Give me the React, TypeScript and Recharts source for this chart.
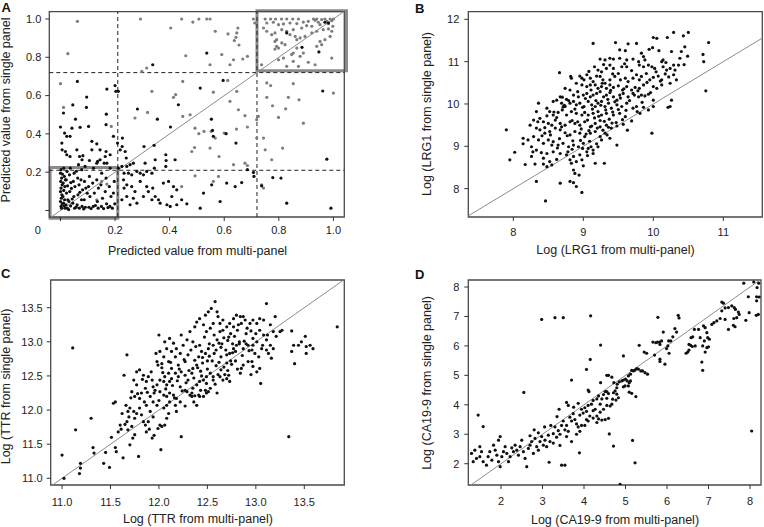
import React from "react";
import { ScatterChart, Scatter, XAxis, YAxis, ReferenceLine, ReferenceArea } from "recharts";

type Pt = [number, number];

const FONT = "'Liberation Sans', Arial, Helvetica, sans-serif";
const INK = "#111";
const FRAME = "#4a4a4a";

// ---- Panel A: predicted values, multi-panel vs single panel ----
const predTicks = [0, 0.2, 0.4, 0.6, 0.8, 1.0];
const predCutoffs = [0.21, 0.72];
const predBlack: Pt[] = [
  [0.536, 0.822], [0.338, 0.761], [0.829, 0.927], [0.885, 0.852], [0.947, 0.828], [0.969, 0.983], [0.982, 0.979],
  [0.011, 0.509], [0.045, 0.551], [0.062, 0.674], [0.055, 0.477], [0.096, 0.592], [0.095, 0.538], [0.17, 0.634],
  [0.168, 0.503], [0.2, 0.652], [0.203, 0.622], [0.212, 0.622], [0.167, 0.448], [0.103, 0.439], [0.282, 0.53],
  [0.355, 0.477], [0.432, 0.552], [0.512, 0.639], [0.596, 0.679], [0.553, 0.477], [0.961, 0.624],
  [0.0, 0.436], [0.015, 0.404], [0.023, 0.387], [0.035, 0.387], [0.042, 0.43], [0.005, 0.352], [0.006, 0.317],
  [0.018, 0.308], [0.023, 0.291], [0.035, 0.282], [0.072, 0.434], [0.06, 0.317], [0.07, 0.282], [0.082, 0.286],
  [0.079, 0.265], [0.115, 0.361], [0.115, 0.317], [0.133, 0.348], [0.145, 0.317], [0.167, 0.308], [0.164, 0.282],
  [0.182, 0.291], [0.145, 0.265], [0.133, 0.247], [0.16, 0.247], [0.17, 0.247], [0.106, 0.261], [0.194, 0.387],
  [0.209, 0.352], [0.219, 0.317], [0.227, 0.378], [0.226, 0.334], [0.237, 0.308], [0.241, 0.274], [0.343, 0.34],
  [0.306, 0.334], [0.403, 0.436], [0.557, 0.418], [0.56, 0.387], [0.607, 0.401], [0.643, 0.352], [0.386, 0.291],
  [0.387, 0.261], [0.386, 0.23], [0.42, 0.265], [0.31, 0.247], [0.347, 0.265], [0.685, 0.213], [0.707, 0.199],
  [0.976, 0.268],
  [0.212, 0.221], [0.225, 0.23], [0.243, 0.23], [0.255, 0.239], [0.267, 0.247], [0.233, 0.195], [0.249, 0.195],
  [0.261, 0.186], [0.28, 0.204], [0.292, 0.195], [0.304, 0.186], [0.316, 0.204], [0.335, 0.195], [0.344, 0.221],
  [0.231, 0.16], [0.243, 0.134], [0.233, 0.117], [0.261, 0.125], [0.273, 0.099], [0.243, 0.073], [0.267, 0.064],
  [0.28, 0.038], [0.255, 0.03], [0.225, 0.056], [0.292, 0.152], [0.316, 0.125], [0.322, 0.099], [0.338, 0.117],
  [0.304, 0.073], [0.335, 0.056], [0.347, 0.073], [0.359, 0.056], [0.365, 0.038], [0.377, 0.143], [0.396, 0.152],
  [0.414, 0.125], [0.408, 0.073], [0.426, 0.108], [0.39, 0.03], [0.402, 0.021], [0.426, 0.03], [0.444, 0.056],
  [0.463, 0.035], [0.512, 0.012], [0.524, 0.091], [0.554, 0.134], [0.585, 0.047], [0.609, 0.143], [0.64, 0.125],
  [0.664, 0.146], [0.709, 0.178], [0.737, 0.129], [0.778, 0.172], [0.808, 0.169], [0.829, 0.038], [0.991, 0.012],
  [0.002, 0.213], [0.0, 0.195], [0.004, 0.169], [0.001, 0.152], [0.006, 0.134], [0.002, 0.117], [0.0, 0.099],
  [0.005, 0.082], [0.003, 0.064], [0.0, 0.047], [0.006, 0.035], [0.002, 0.021], [0.004, 0.012],
  [0.012, 0.221], [0.014, 0.178], [0.01, 0.143], [0.016, 0.125], [0.012, 0.105], [0.009, 0.073], [0.015, 0.056],
  [0.011, 0.038], [0.013, 0.024], [0.017, 0.012], [0.024, 0.204], [0.021, 0.16], [0.026, 0.129], [0.022, 0.091],
  [0.027, 0.056], [0.02, 0.03], [0.025, 0.012], [0.036, 0.221], [0.033, 0.186], [0.038, 0.146], [0.034, 0.099],
  [0.031, 0.047], [0.037, 0.024], [0.05, 0.195], [0.047, 0.152], [0.053, 0.125], [0.049, 0.073], [0.045, 0.038],
  [0.052, 0.012], [0.066, 0.239], [0.063, 0.169], [0.068, 0.134], [0.064, 0.082], [0.061, 0.03], [0.069, 0.012],
  [0.078, 0.213], [0.075, 0.16], [0.081, 0.108], [0.077, 0.056], [0.079, 0.021], [0.09, 0.23], [0.088, 0.152],
  [0.093, 0.117], [0.087, 0.056], [0.091, 0.017], [0.106, 0.178], [0.103, 0.125], [0.108, 0.073], [0.104, 0.017],
  [0.121, 0.221], [0.118, 0.143], [0.124, 0.091], [0.12, 0.021], [0.136, 0.256], [0.133, 0.16], [0.139, 0.117],
  [0.135, 0.047], [0.138, 0.012], [0.151, 0.195], [0.148, 0.134], [0.154, 0.064], [0.15, 0.021], [0.167, 0.169],
  [0.164, 0.099], [0.169, 0.035], [0.182, 0.221], [0.179, 0.125], [0.185, 0.073], [0.181, 0.021], [0.197, 0.152],
  [0.194, 0.091], [0.199, 0.035], [0.03, 0.005], [0.058, 0.018], [0.085, 0.008], [0.112, 0.01], [0.128, 0.026],
  [0.158, 0.01], [0.174, 0.015], [0.19, 0.012], [0.043, 0.06], [0.071, 0.095], [0.098, 0.09], [0.007, 0.19],
  [0.04, 0.115], [0.018, 0.16], [0.058, 0.205],
];
const predGray: Pt[] = [
  [0.062, 0.988], [0.293, 1.0], [0.444, 1.0], [0.485, 0.984], [0.507, 1.0], [0.536, 1.0], [0.548, 1.0],
  [0.404, 0.953], [0.567, 0.936], [0.614, 0.922], [0.646, 0.927], [0.65, 0.953], [0.643, 0.904], [0.637, 0.887],
  [0.654, 0.864], [0.707, 1.0], [0.712, 0.979],
  [0.75, 1.0], [0.77, 1.0], [0.788, 1.0], [0.81, 1.0], [0.829, 1.0], [0.851, 1.0], [0.872, 1.0], [0.927, 1.0],
  [0.939, 1.0], [0.969, 1.0], [0.988, 1.0], [1.0, 1.0], [0.756, 0.979], [0.78, 0.983], [0.799, 0.97],
  [0.817, 0.974], [0.841, 0.979], [0.866, 0.976], [0.89, 0.984], [0.908, 0.988], [0.933, 0.993], [0.945, 0.983],
  [0.957, 0.997], [0.976, 0.988], [0.994, 0.991], [0.982, 0.976], [0.951, 0.97], [0.921, 0.962], [0.902, 0.965],
  [0.884, 0.953], [0.853, 0.944], [0.829, 0.936], [0.811, 0.944], [0.786, 0.927], [0.774, 0.918], [0.756, 0.936],
  [0.744, 0.953], [0.792, 0.892], [0.786, 0.883], [0.811, 0.875], [0.823, 0.866], [0.841, 0.918], [0.86, 0.909],
  [0.866, 0.892], [0.878, 0.901], [0.896, 0.909], [0.921, 0.927], [0.939, 0.936], [0.963, 0.944], [0.982, 0.948],
  [0.994, 0.936], [0.998, 0.962], [0.988, 0.909], [0.969, 0.892], [0.951, 0.883], [0.939, 0.857], [0.957, 0.866],
  [0.853, 0.822], [0.847, 0.814], [0.878, 0.805], [0.89, 0.822], [0.866, 0.848], [0.792, 0.857], [0.799, 0.848],
  [0.786, 0.843], [0.799, 0.787], [0.817, 0.796], [0.829, 0.753], [0.853, 0.779], [0.872, 0.753], [0.908, 0.774],
  [0.933, 0.761], [0.994, 0.796], [0.737, 0.761],
  [0.027, 0.819], [0.459, 0.808], [0.548, 0.761], [0.591, 0.814], [0.634, 0.787], [0.668, 0.791], [0.685, 0.805],
  [0.621, 0.761], [0.298, 0.726], [0.316, 0.744], [0.0, 0.662], [0.011, 0.538], [0.273, 0.483], [0.319, 0.512],
  [0.335, 0.622], [0.414, 0.591], [0.422, 0.605], [0.448, 0.674], [0.475, 0.5], [0.448, 0.491], [0.613, 0.679],
  [0.56, 0.618], [0.621, 0.57], [0.646, 0.622], [0.652, 0.526], [0.676, 0.495], [0.685, 0.436], [0.725, 0.491],
  [0.719, 0.474], [0.756, 0.666], [0.756, 0.591], [0.777, 0.547], [0.799, 0.486], [0.77, 0.652], [0.825, 0.531],
  [0.835, 0.591], [0.853, 0.662], [0.874, 0.578], [0.89, 0.456], [1.0, 0.613], [0.186, 0.439], [0.493, 0.43],
  [0.507, 0.401], [0.526, 0.413], [0.552, 0.413], [0.567, 0.378], [0.6, 0.404], [0.645, 0.425], [0.719, 0.378],
  [0.744, 0.378], [0.75, 0.317], [0.774, 0.265], [0.814, 0.326], [0.481, 0.308], [0.491, 0.329], [0.548, 0.326],
  [0.581, 0.282], [0.634, 0.239], [0.676, 0.247], [0.685, 0.235], [0.493, 0.181], [0.56, 0.152], [0.579, 0.178],
  [0.744, 0.117], [0.737, 0.134], [0.444, 0.125], [0.151, 0.152], [0.17, 0.138], [0.133, 0.056],
];

// ---- Panel B: log LRG1 ----
const lrg1XTicks = [8, 9, 10, 11];
const lrg1YTicks = [8, 9, 10, 11, 12];
const lrg1Points: Pt[] = [
  [10.5, 11.69], [10.29, 11.69], [10.43, 11.61], [10.0, 11.57], [10.05, 11.55], [10.2, 11.57], [9.14, 11.43],
  [9.46, 11.45], [9.64, 11.42], [9.76, 11.43], [10.79, 11.45], [9.52, 11.28], [9.6, 11.26], [9.94, 11.29],
  [9.99, 11.33], [10.08, 11.26], [10.26, 11.24], [10.45, 11.35], [10.4, 11.24], [10.71, 11.17], [10.72, 11.0],
  [10.49, 11.13], [9.38, 11.08], [9.43, 11.06], [9.52, 11.08], [9.62, 11.04], [9.71, 11.06], [9.79, 11.0],
  [9.86, 11.12], [9.88, 11.04], [10.12, 11.0], [10.14, 11.04], [9.24, 11.06], [9.31, 11.04], [9.93, 10.92],
  [9.98, 10.88], [10.02, 10.84], [9.86, 10.88], [9.8, 10.92], [10.29, 10.92], [10.36, 10.92], [9.21, 10.8],
  [9.26, 10.76], [9.33, 10.84], [9.38, 10.92], [9.43, 10.84], [9.55, 10.88], [9.62, 10.88], [10.14, 10.88],
  [10.19, 10.8], [10.24, 10.84], [8.66, 10.74], [8.83, 10.61], [8.82, 10.65], [8.95, 10.66], [8.98, 10.61],
  [9.01, 10.57], [9.05, 10.69], [9.1, 10.61], [9.14, 10.53], [9.19, 10.66], [9.24, 10.65], [9.28, 10.57],
  [9.31, 10.49], [9.38, 10.57], [9.45, 10.65], [9.5, 10.72], [9.53, 10.57], [9.6, 10.61], [9.64, 10.53],
  [9.71, 10.61], [9.76, 10.69], [9.8, 10.57], [9.83, 10.65], [9.9, 10.72], [9.95, 10.57], [10.0, 10.63],
  [10.07, 10.66], [10.12, 10.57], [10.17, 10.71], [10.29, 10.69], [10.31, 10.8], [8.9, 10.49], [8.98, 10.45],
  [9.05, 10.41], [9.1, 10.45], [9.17, 10.45], [9.21, 10.37], [9.26, 10.41], [9.33, 10.37], [9.38, 10.45],
  [9.43, 10.39], [9.5, 10.43], [9.56, 10.33], [9.62, 10.41], [9.69, 10.33], [9.74, 10.39], [9.8, 10.37],
  [9.86, 10.45], [10.0, 10.41], [10.05, 10.37], [10.12, 10.45], [8.74, 10.37], [8.81, 10.33], [8.86, 10.21],
  [8.93, 10.17], [8.76, 10.11], [8.7, 10.16], [8.67, 10.17], [9.0, 10.21], [9.05, 10.25], [9.1, 10.17],
  [9.14, 10.21], [9.19, 10.25], [9.24, 10.29], [9.29, 10.17], [9.33, 10.21], [9.38, 10.27], [9.43, 10.17],
  [9.48, 10.09], [9.52, 10.21], [9.57, 10.25], [9.64, 10.17], [9.71, 10.25], [9.79, 10.17], [9.83, 10.21],
  [9.88, 10.19], [9.93, 10.23], [10.0, 10.09], [10.24, 10.49], [10.26, 10.09], [8.57, 10.06], [8.62, 10.09],
  [8.69, 10.02], [8.74, 9.94], [8.81, 10.02], [8.86, 10.06], [8.9, 9.98], [8.95, 10.02], [9.01, 9.94],
  [9.07, 10.06], [9.12, 9.98], [9.17, 9.94], [9.21, 10.02], [9.26, 10.06], [9.31, 9.94], [9.36, 10.02],
  [9.4, 9.9], [9.48, 9.98], [9.55, 9.94], [9.62, 10.02], [9.71, 9.9], [9.76, 9.94], [9.86, 9.92], [9.93, 9.86],
  [8.36, 10.02], [8.33, 9.82], [8.48, 9.9], [8.52, 9.82], [8.57, 9.74], [8.64, 9.8], [8.7, 9.86], [8.76, 9.74],
  [8.83, 9.82], [8.9, 9.78], [8.98, 9.74], [9.02, 9.8], [9.07, 9.74], [9.14, 9.78], [9.21, 9.82], [9.26, 9.74],
  [9.33, 9.78], [9.43, 9.74], [9.52, 9.78], [9.6, 9.7], [8.29, 9.62], [8.38, 9.66], [8.43, 9.58], [8.5, 9.54],
  [8.55, 9.5], [8.6, 9.62], [8.67, 9.54], [8.74, 9.5], [8.81, 9.58], [8.88, 9.54], [8.95, 9.5], [9.02, 9.58],
  [9.1, 9.46], [9.17, 9.54], [9.24, 9.46], [9.33, 9.5], [9.4, 9.43], [9.48, 9.48], [8.24, 9.5], [8.33, 9.43],
  [8.38, 9.39], [8.45, 9.31], [8.52, 9.35], [8.6, 9.43], [8.67, 9.39], [8.74, 9.32], [8.81, 9.27], [8.88, 9.35],
  [8.95, 9.31], [9.02, 9.23], [9.1, 9.31], [9.17, 9.35], [9.24, 9.23], [9.31, 9.31], [9.38, 9.19], [7.9, 9.39],
  [8.14, 9.19], [8.21, 9.15], [8.29, 9.23], [8.36, 9.15], [8.43, 9.07], [8.5, 9.15], [8.57, 9.11], [8.64, 9.03],
  [8.71, 9.07], [8.79, 8.99], [8.86, 9.03], [8.93, 8.99], [9.0, 9.07], [9.07, 8.95], [9.14, 8.91], [9.21, 8.99],
  [9.26, 9.15], [9.48, 9.03], [8.14, 9.06], [8.26, 8.99], [8.33, 8.91], [8.4, 8.85], [8.48, 8.83], [8.57, 8.87],
  [8.67, 8.83], [8.76, 8.8], [8.86, 8.76], [8.95, 8.8], [9.05, 8.87], [9.14, 8.83], [9.17, 8.6], [8.02, 8.86],
  [7.95, 8.68], [8.26, 8.76], [8.28, 8.87], [8.43, 8.72], [8.52, 8.64], [8.62, 8.69], [8.17, 8.57], [8.31, 8.58],
  [8.43, 8.58], [8.48, 8.52], [8.55, 8.56], [8.81, 8.68], [8.83, 8.6], [8.9, 8.64], [8.98, 8.68], [9.0, 8.54],
  [8.86, 8.44], [8.88, 8.36], [9.3, 8.6], [8.33, 8.17], [8.67, 8.13], [8.81, 8.17], [8.86, 8.14], [8.9, 8.05],
  [8.94, 8.32], [8.98, 7.91], [8.46, 7.71], [9.98, 9.31], [10.75, 10.31], [10.24, 9.94], [10.21, 9.92],
  [10.0, 9.94], [9.81, 9.78],
  [8.62, 9.68], [8.71, 9.93], [8.79, 10.08], [8.84, 9.61], [8.88, 9.88], [8.92, 10.29], [8.97, 9.41],
  [8.99, 9.92], [9.03, 10.13], [9.06, 9.62], [9.08, 9.37], [9.11, 10.33], [9.13, 9.88], [9.16, 9.67],
  [9.18, 10.08], [9.2, 9.43], [9.22, 9.71], [9.25, 9.97], [9.27, 10.49], [9.3, 9.59], [9.32, 9.86],
  [9.35, 10.11], [9.37, 9.64], [9.39, 10.32], [9.42, 9.81], [9.45, 10.05], [9.47, 9.56], [9.5, 9.87],
  [9.53, 10.14], [9.56, 9.63], [9.58, 10.36], [9.61, 9.85], [9.66, 10.08], [9.69, 9.6], [9.73, 10.21],
  [9.77, 9.82], [8.45, 9.44], [8.53, 9.27], [8.58, 9.81], [8.66, 9.18], [8.69, 9.46], [8.73, 9.97], [8.77, 9.25],
  [8.85, 9.13], [8.92, 9.58], [8.96, 9.14], [9.04, 9.29], [9.09, 9.12], [9.12, 9.48], [9.19, 9.06], [9.28, 9.38],
  [9.34, 9.27], [9.41, 9.55], [8.35, 9.58], [8.41, 9.25], [8.48, 9.72], [8.55, 9.03], [8.63, 8.96], [8.78, 8.87],
  [8.84, 8.93], [8.99, 8.95], [9.06, 8.78], [9.11, 8.99], [9.24, 9.61], [9.36, 9.45], [9.57, 9.52], [9.63, 9.38],
  [9.78, 10.31], [9.84, 10.04], [9.91, 10.51], [9.96, 10.27], [10.04, 10.76], [10.1, 10.54], [10.18, 10.98],
  [10.22, 10.64], [10.33, 10.57], [10.38, 11.08], [10.44, 10.93], [9.69, 10.79], [9.59, 10.95], [9.83, 11.2],
  [9.42, 10.71], [9.29, 10.93], [9.16, 10.88], [9.08, 10.77],
];

// ---- Panel C: log TTR ----
const ttrTicks = [11.0, 11.5, 12.0, 12.5, 13.0, 13.5];
const ttrPoints: Pt[] = [
  [11.11, 12.91], [11.0, 11.34], [11.02, 11.0], [11.14, 11.71], [11.19, 11.22], [11.18, 11.07], [11.19, 11.15],
  [11.3, 11.88], [11.32, 11.45], [11.33, 11.37], [11.43, 11.22], [11.45, 11.38], [11.49, 11.16], [11.51, 11.6],
  [11.55, 11.45], [11.56, 11.39], [11.63, 11.3], [11.53, 12.1], [11.55, 12.12], [11.67, 12.81], [11.64, 12.51],
  [11.6, 11.78], [11.61, 11.72], [11.65, 11.79], [11.67, 11.83], [11.68, 11.71], [11.7, 11.49], [11.73, 11.59],
  [11.75, 11.64], [11.79, 11.32], [11.8, 12.03], [11.82, 11.93], [11.84, 11.83], [11.7, 12.03], [11.74, 11.98],
  [11.77, 11.95], [11.75, 11.88], [11.66, 12.07], [11.68, 11.98], [11.77, 12.56], [11.8, 12.59], [11.84, 12.51],
  [11.74, 12.44], [11.77, 12.37], [11.72, 12.27], [11.75, 12.2], [11.8, 12.17], [11.82, 12.25], [11.86, 12.32],
  [11.87, 12.42], [11.89, 12.49], [11.93, 12.44], [11.94, 12.34], [11.96, 12.29], [11.98, 12.37], [11.91, 12.2],
  [11.94, 12.12], [11.98, 12.07], [11.87, 12.07], [11.91, 11.98], [11.94, 11.9], [11.89, 11.83], [11.86, 11.78],
  [11.87, 11.68], [11.93, 11.59], [11.95, 11.63], [11.99, 11.73], [12.01, 11.78], [12.0, 13.1], [12.06, 13.0],
  [12.08, 12.9], [12.01, 12.86], [12.05, 12.78], [12.1, 12.71], [12.03, 12.68], [11.98, 12.71], [11.99, 12.66],
  [12.11, 13.05], [12.15, 12.98], [12.18, 12.9], [12.13, 12.86], [12.17, 12.78], [12.22, 12.83], [12.25, 12.95],
  [12.29, 13.03], [12.23, 13.1], [12.3, 12.81], [12.27, 12.71], [12.2, 12.66], [12.13, 12.61], [12.1, 12.54],
  [12.06, 12.49], [12.13, 12.46], [12.17, 12.54], [12.2, 12.49], [12.23, 12.56], [12.27, 12.51], [12.3, 12.44],
  [12.34, 12.54], [12.35, 12.61], [12.39, 12.66], [12.37, 12.73], [12.41, 12.78], [12.44, 12.86], [12.42, 12.95],
  [12.35, 13.0], [12.32, 13.15], [12.37, 13.22], [12.39, 13.29], [12.42, 13.34], [12.46, 13.25], [12.49, 13.15],
  [12.53, 13.2], [12.56, 13.27], [12.48, 13.39], [12.51, 13.44], [12.54, 13.49], [12.58, 13.59], [12.6, 13.44],
  [12.61, 13.37], [12.63, 13.27], [12.66, 13.32], [12.22, 12.34], [12.27, 12.29], [12.29, 12.27], [12.32, 12.22],
  [12.35, 12.32], [12.39, 12.37], [12.42, 12.42], [12.46, 12.44], [12.49, 12.39], [12.53, 12.32], [12.56, 12.49],
  [12.61, 12.52], [12.64, 12.59], [12.67, 12.63], [12.7, 12.69], [12.74, 12.72], [12.76, 12.84], [12.79, 12.86],
  [12.83, 12.97], [12.88, 13.01], [12.9, 13.12], [12.95, 13.16], [12.01, 12.27], [12.05, 12.22], [12.08, 12.2],
  [12.11, 12.25], [12.15, 12.22], [12.18, 12.17], [12.08, 12.37], [12.11, 12.42], [12.05, 12.42], [12.01, 12.44],
  [12.11, 12.12], [12.17, 12.07], [12.18, 11.98], [12.22, 12.12], [12.08, 12.07], [12.05, 12.03], [12.08, 11.88],
  [12.06, 11.78], [12.03, 11.76], [12.34, 12.25], [12.48, 12.29], [12.49, 12.25], [12.51, 12.27], [12.46, 12.2],
  [12.34, 12.2], [12.37, 12.21], [12.41, 12.22], [12.39, 12.07], [12.42, 12.2], [12.02, 11.42], [12.23, 11.61],
  [12.43, 12.57], [12.45, 12.69], [12.5, 12.72], [12.52, 12.79], [12.57, 12.83], [12.59, 12.88], [12.64, 12.92],
  [12.65, 12.97], [12.71, 13.02], [12.72, 13.07], [12.78, 13.08], [12.81, 13.17], [12.6, 13.03], [12.56, 12.95],
  [12.51, 12.9], [12.48, 12.83], [12.63, 13.15], [12.66, 13.17], [12.7, 13.22], [12.73, 13.27], [12.77, 13.34],
  [12.8, 13.39], [12.84, 13.37], [12.87, 13.37], [12.89, 13.32], [12.85, 13.27], [12.82, 13.25], [12.77, 13.22],
  [12.7, 12.81], [12.73, 12.83], [12.77, 12.9], [12.8, 12.95], [12.87, 12.9], [12.92, 12.95], [12.96, 12.88],
  [12.99, 12.83], [13.03, 12.78], [13.06, 12.9], [12.97, 12.95], [12.91, 13.2], [12.94, 13.27], [12.97, 13.32],
  [13.01, 13.27], [13.04, 13.17], [13.08, 13.1], [13.11, 13.03], [13.04, 13.34], [13.08, 13.32], [13.11, 13.56],
  [13.15, 13.25], [13.18, 13.15], [13.21, 13.08], [13.25, 13.15], [12.97, 13.05], [13.01, 13.0], [13.11, 12.88],
  [13.13, 12.83], [13.15, 12.95], [13.16, 12.76], [13.18, 12.9], [13.2, 13.37], [13.27, 13.17], [13.05, 12.39],
  [13.34, 11.61], [13.37, 13.16], [13.39, 12.95], [13.37, 12.86], [13.4, 12.68], [13.44, 12.95], [13.47, 13.0],
  [13.51, 13.08], [13.52, 12.93], [13.56, 12.95], [13.59, 12.9], [13.52, 12.83], [13.84, 13.22], [12.72, 12.51],
  [12.7, 12.46], [12.73, 12.42], [12.63, 12.49], [12.66, 12.44], [12.49, 12.49], [12.53, 12.54], [12.56, 12.44],
  [12.87, 12.66], [12.92, 12.71], [12.96, 12.71], [12.97, 12.64], [13.01, 12.56], [13.04, 12.61], [12.85, 12.61],
  [12.84, 12.54],
  [12.04, 12.55], [12.07, 12.31], [12.12, 12.7], [12.14, 12.36], [12.19, 12.43], [12.21, 12.6], [12.24, 12.28],
  [12.26, 12.74], [12.28, 12.4], [12.31, 12.58], [12.33, 12.88], [12.36, 12.47], [12.38, 12.93], [12.4, 12.62],
  [12.43, 12.29], [12.45, 12.77], [12.47, 13.07], [12.5, 12.6], [12.52, 12.97], [12.55, 12.72], [12.57, 13.1],
  [12.59, 12.65], [12.62, 12.98], [12.64, 12.78], [12.67, 13.06], [12.69, 12.88], [12.71, 12.58], [12.74, 13.12],
  [12.76, 12.97], [12.79, 12.72], [12.83, 13.0], [12.86, 12.8], [12.9, 12.97], [11.92, 12.56], [11.95, 12.25],
  [11.97, 12.83], [12.0, 12.14], [12.03, 12.62], [11.85, 12.12], [11.88, 12.26], [11.83, 12.45], [11.78, 12.24],
  [11.71, 12.18], [11.69, 11.9], [11.62, 11.95], [11.58, 11.68], [11.72, 11.76], [11.9, 11.72], [12.1, 11.95],
  [12.16, 12.18], [12.27, 12.06], [12.36, 12.12], [12.44, 12.5], [12.58, 12.38], [12.62, 12.7], [12.68, 12.52],
  [12.75, 12.67], [12.81, 12.6], [12.93, 12.87], [13.0, 13.12], [13.07, 12.95], [13.12, 13.1], [12.95, 12.52],
  [12.6, 12.25],
];

// ---- Panel D: log CA19-9 ----
const ca199Ticks = [2, 3, 4, 5, 6, 7, 8];
const ca199Points: Pt[] = [
  [1.45, 3.65], [1.57, 3.26], [2.98, 6.9], [3.3, 6.96], [3.5, 6.96], [4.16, 7.02], [3.7, 4.84], [2.55, 4.42],
  [4.4, 6.03], [4.15, 5.54], [4.06, 5.2],
  [1.29, 2.35], [1.37, 2.46], [1.33, 2.07], [1.41, 2.18], [1.49, 2.24], [1.53, 2.41], [1.49, 2.58], [1.57, 2.07],
  [1.65, 1.95], [1.69, 2.24], [1.73, 2.41], [1.78, 2.12], [1.82, 2.63], [1.86, 2.46], [1.9, 2.29], [1.94, 2.07],
  [1.98, 1.9], [2.02, 2.24], [2.06, 2.41], [1.94, 2.8], [1.98, 2.92], [2.1, 2.58], [2.14, 2.35], [2.18, 2.07],
  [2.22, 2.24], [2.26, 2.54], [2.3, 2.41], [2.34, 2.63], [2.38, 2.46], [2.42, 2.29], [2.46, 2.58], [2.5, 2.8],
  [2.54, 2.41], [2.58, 2.18], [2.62, 1.9], [2.66, 2.52], [2.7, 2.63], [2.74, 2.75], [2.78, 2.35], [2.82, 2.86],
  [2.86, 2.58], [2.9, 2.46], [2.94, 2.75], [2.98, 2.92], [3.02, 2.63], [3.06, 2.8], [3.1, 2.58], [3.14, 2.97],
  [3.18, 2.75], [3.26, 3.02], [3.3, 3.25], [3.34, 2.9], [3.38, 3.12], [3.42, 3.0], [3.46, 3.3], [3.5, 3.45],
  [3.54, 3.15], [3.58, 3.3], [3.62, 3.1], [3.66, 3.58], [3.7, 3.45], [3.74, 3.7], [3.78, 3.5], [3.82, 3.35],
  [3.86, 3.25], [3.9, 3.65], [3.94, 3.85], [3.98, 3.72], [4.02, 3.9], [4.06, 3.78], [4.1, 3.98], [4.14, 3.62],
  [4.18, 4.02], [4.22, 4.15], [4.27, 3.85], [4.31, 4.2], [4.35, 4.3], [4.39, 4.02], [4.43, 4.2], [4.47, 4.35],
  [4.51, 4.45], [4.55, 4.22], [4.59, 4.38],
  [3.26, 2.7], [3.42, 2.62], [3.58, 2.92], [3.7, 2.75], [3.82, 3.0], [3.9, 3.1], [4.02, 3.3], [4.1, 3.45],
  [4.22, 3.55], [4.31, 3.62], [4.39, 3.75], [4.47, 3.85], [4.55, 3.98], [4.35, 3.52], [4.43, 3.48], [4.51, 3.5],
  [4.59, 3.54], [4.31, 3.4], [4.22, 3.8], [4.06, 3.5], [3.94, 3.3],
  [3.58, 4.08], [3.62, 3.98], [3.75, 3.92], [3.86, 4.05], [3.4, 3.85], [3.35, 3.6], [3.2, 3.3], [3.05, 3.25],
  [2.9, 3.05], [2.8, 3.15], [2.7, 2.95],
  [3.16, 2.05], [3.46, 1.95], [3.54, 1.95], [3.89, 2.37], [4.61, 3.01], [4.55, 4.45], [4.55, 5.0], [4.59, 5.0],
  [4.4, 4.75], [4.1, 4.5], [4.12, 4.45],
  [4.67, 4.94], [4.72, 4.75], [4.8, 4.7], [4.85, 4.78], [4.91, 4.81], [4.95, 4.84], [5.0, 4.87], [5.07, 4.98],
  [5.12, 5.04], [5.15, 5.17], [5.19, 5.15], [5.23, 5.18], [5.27, 5.23], [5.31, 5.21], [5.37, 5.15], [5.41, 5.15],
  [5.47, 5.09], [5.53, 5.04], [5.04, 4.81], [5.09, 4.75], [5.12, 4.81], [5.07, 4.64], [4.99, 4.64], [4.95, 4.61],
  [4.79, 4.58], [4.75, 4.47], [4.71, 4.41], [4.79, 4.36], [4.69, 4.19], [4.77, 4.16], [4.83, 4.24], [4.67, 4.02],
  [4.63, 3.96], [5.25, 4.28], [5.09, 4.43], [5.15, 4.39], [4.71, 2.6], [5.17, 2.79], [5.23, 2.03], [4.87, 1.3],
  [8.04, 3.11], [4.95, 5.66], [5.33, 6.02], [5.45, 5.79], [5.51, 5.75], [5.66, 6.13], [5.73, 6.11], [5.77, 6.13],
  [5.82, 6.13], [5.83, 6.05], [5.87, 6.17], [5.91, 6.47], [5.7, 5.69], [5.83, 5.55], [5.83, 5.47], [5.95, 5.38],
  [6.05, 5.75], [5.99, 5.91], [6.02, 6.0], [6.04, 6.17], [6.09, 6.17], [6.14, 6.31], [6.19, 6.59], [6.23, 6.47],
  [5.78, 6.97], [6.27, 7.04], [6.29, 6.95], [6.46, 5.75], [6.5, 5.79], [6.53, 5.86], [6.53, 6.05], [6.57, 6.02],
  [6.61, 5.98], [6.58, 6.28], [6.62, 6.31], [6.66, 6.56], [6.68, 6.0], [6.76, 6.56], [6.8, 6.28], [6.88, 6.68],
  [6.92, 6.62], [6.96, 6.45], [6.98, 6.28], [7.02, 6.23], [6.9, 6.17], [6.96, 5.94], [6.86, 6.0], [6.92, 5.79],
  [7.0, 5.97], [6.84, 5.45], [6.86, 5.17], [7.08, 6.73], [7.13, 6.79], [7.2, 6.85], [7.28, 6.93], [7.4, 6.9],
  [7.32, 7.19], [7.32, 7.49], [7.36, 7.45], [7.4, 7.29], [7.48, 7.3], [7.56, 7.36], [7.62, 7.3], [7.65, 7.24],
  [7.72, 7.15], [7.74, 7.07], [7.68, 6.96], [7.61, 6.93], [7.6, 6.7], [7.64, 6.65], [7.48, 6.56], [7.85, 8.13],
  [8.09, 8.17], [8.17, 7.98], [8.21, 8.13], [7.96, 7.67], [8.16, 7.67], [8.22, 7.66], [8.16, 7.53], [7.98, 7.13],
  [8.15, 7.04], [8.2, 7.07], [7.9, 6.87],
];

const toRows = (pts: Pt[]) => pts.map(([x, y]) => ({ x, y }));

const dot = (fill: string) => (p: any) => <circle cx={p.cx} cy={p.cy} r={1.6} fill={fill} />;

const TICK_SIZE = 11;

type PanelProps = {
  left: number;
  top: number;
  width: number;
  height: number;
  plot: { l: number; r: number; t: number; b: number };
  xDomain: [number, number];
  yDomain: [number, number];
  xTicks: number[];
  yTicks: number[];
  fmt: (v: number) => string;
  xGap: number;
  yGap: number;
  originLabel?: boolean;
  series: { pts: Pt[]; fill: string }[];
  extras?: React.ReactNode[];
};

function Panel(p: PanelProps) {
  const lo = Math.max(p.xDomain[0], p.yDomain[0]);
  const hi = Math.min(p.xDomain[1], p.yDomain[1]);
  const xTick = (t: any) => {
    const v = t.payload.value;
    const shift = p.originLabel && v === 0 ? -22.7 : 0;
    return (
      <text x={t.x + shift} y={t.y} dy="0.71em" textAnchor="middle" fontSize={TICK_SIZE} fill="#222" fontFamily={FONT}>
        {p.originLabel && v === 0 ? "0" : p.fmt(v)}
      </text>
    );
  };
  const yTick = (t: any) => {
    const v = t.payload.value;
    return (
      <text x={t.x} y={t.y} dy="0.355em" textAnchor="end" fontSize={TICK_SIZE} fill="#222" fontFamily={FONT}>
        {p.originLabel && v === 0 ? "" : p.fmt(v)}
      </text>
    );
  };
  return (
    <div style={{ position: "absolute", left: p.left, top: p.top }}>
      <ScatterChart
        width={p.width}
        height={p.height}
        margin={{ top: p.plot.t, right: p.width - p.plot.r, bottom: p.height - p.plot.b - 30, left: 0 }}
      >
        <XAxis
          type="number"
          dataKey="x"
          domain={p.xDomain}
          ticks={p.xTicks}
          interval={0}
          allowDataOverflow
          axisLine={false}
          tickLine={{ stroke: "#333" }}
          tickSize={4}
          tickMargin={p.xGap}
          height={30}
          tick={xTick}
        />
        <YAxis
          type="number"
          dataKey="y"
          domain={p.yDomain}
          ticks={p.yTicks}
          interval={0}
          allowDataOverflow
          axisLine={false}
          tickLine={{ stroke: "#333" }}
          tickSize={4}
          tickMargin={p.yGap}
          width={p.plot.l}
          tick={yTick}
        />
        {p.extras}
        <ReferenceLine
          segment={[{ x: lo, y: lo }, { x: hi, y: hi }]}
          stroke="#8c8c8c"
          strokeWidth={1}
          ifOverflow="visible"
        />
        {p.series.map((s, i) => (
          <Scatter key={i} data={toRows(s.pts)} shape={dot(s.fill)} isAnimationActive={false} />
        ))}
        <ReferenceArea
          x1={p.xDomain[0]}
          x2={p.xDomain[1]}
          y1={p.yDomain[0]}
          y2={p.yDomain[1]}
          fill="none"
          stroke={FRAME}
          strokeWidth={1.3}
          ifOverflow="visible"
        />
      </ScatterChart>
    </div>
  );
}

const titleStyle = { fontSize: 12.5, fill: "#222", fontFamily: FONT } as const;

export default function App() {
  const fmt1 = (v: number) => v.toFixed(1);
  const fmt0 = (v: number) => String(v);
  const cutoffLines = predCutoffs.flatMap((c) => [
    <ReferenceLine key={"vx" + c} x={c} stroke="#222" strokeDasharray="4 3" strokeWidth={1} />,
    <ReferenceLine key={"hy" + c} y={c} stroke="#222" strokeDasharray="4 3" strokeWidth={1} />,
  ]);
  const boxes = [
    <ReferenceArea key="lowbox" x1={-0.038} x2={0.21} y1={-0.04} y2={0.225} fill="none" stroke="#8a8a8a" strokeWidth={3} ifOverflow="visible" />,
    <ReferenceArea key="highbox" x1={0.72} x2={1.048} y1={0.73} y2={1.043} fill="none" stroke="#8a8a8a" strokeWidth={3} ifOverflow="visible" />,
  ];
  return (
    <div style={{ position: "absolute", left: 0, top: 0, width: 764, height: 527, background: "#fff", overflow: "hidden" }}>
      <Panel
        left={0}
        top={0}
        width={380}
        height={265}
        plot={{ l: 49.3, r: 344.3, t: 11.7, b: 217 }}
        xDomain={[-0.041, 1.04]}
        yDomain={[-0.034, 1.038]}
        xTicks={predTicks}
        yTicks={predTicks}
        fmt={fmt1}
        xGap={5}
        yGap={4}
        originLabel
        series={[
          { pts: predGray, fill: "#7d7d7d" },
          { pts: predBlack, fill: INK },
        ]}
        extras={[...cutoffLines, ...boxes]}
      />
      <Panel
        left={380}
        top={0}
        width={384}
        height={265}
        plot={{ l: 88.3, r: 382.3, t: 11.7, b: 217 }}
        xDomain={[7.357, 11.557]}
        yDomain={[7.33, 12.18]}
        xTicks={lrg1XTicks}
        yTicks={lrg1YTicks}
        fmt={fmt0}
        xGap={7}
        yGap={5}
        series={[{ pts: lrg1Points, fill: INK }]}
      />
      <Panel
        left={0}
        top={265}
        width={380}
        height={262}
        plot={{ l: 50.7, r: 344.3, t: 15, b: 220 }}
        xDomain={[10.883, 13.913]}
        yDomain={[10.902, 13.906]}
        xTicks={ttrTicks}
        yTicks={ttrTicks}
        fmt={fmt1}
        xGap={9}
        yGap={4}
        series={[{ pts: ttrPoints, fill: INK }]}
      />
      <Panel
        left={380}
        top={265}
        width={384}
        height={262}
        plot={{ l: 88.3, r: 381, t: 15, b: 220 }}
        xDomain={[1.212, 8.265]}
        yDomain={[1.277, 8.238]}
        xTicks={ca199Ticks}
        yTicks={ca199Ticks}
        fmt={fmt0}
        xGap={8}
        yGap={5}
        series={[{ pts: ca199Points, fill: INK }]}
      />
      <svg width={764} height={527} style={{ position: "absolute", left: 0, top: 0, pointerEvents: "none" }}>
        <text x={1.5} y={12} fontSize={13} fontWeight="bold" fontFamily={FONT} fill="#111">A</text>
        <text x={415} y={12.5} fontSize={13} fontWeight="bold" fontFamily={FONT} fill="#111">B</text>
        <text x={1} y={278} fontSize={13} fontWeight="bold" fontFamily={FONT} fill="#111">C</text>
        <text x={415} y={279} fontSize={13} fontWeight="bold" fontFamily={FONT} fill="#111">D</text>

        <text x={197.5} y={251} textAnchor="middle" dominantBaseline="central" {...titleStyle}>Predicted value from multi-panel</text>
        <text x={615.5} y={250} textAnchor="middle" dominantBaseline="central" {...titleStyle}>Log (LRG1 from multi-panel)</text>
        <text x={198} y={519} textAnchor="middle" dominantBaseline="central" {...titleStyle}>Log (TTR from multi-panel)</text>
        <text x={615} y={520} textAnchor="middle" dominantBaseline="central" {...titleStyle}>Log (CA19-9 from multi-panel)</text>

        <text transform="translate(6,110) rotate(-90)" textAnchor="middle" dominantBaseline="central" {...titleStyle}>Predicted value from single panel</text>
        <text transform="translate(426.5,114) rotate(-90)" textAnchor="middle" dominantBaseline="central" {...titleStyle}>Log (LRG1 from single panel)</text>
        <text transform="translate(6,386.5) rotate(-90)" textAnchor="middle" dominantBaseline="central" {...titleStyle}>Log (TTR from single panel)</text>
        <text transform="translate(426.5,383) rotate(-90)" textAnchor="middle" dominantBaseline="central" {...titleStyle}>Log (CA19-9 from single panel)</text>
      </svg>
    </div>
  );
}
